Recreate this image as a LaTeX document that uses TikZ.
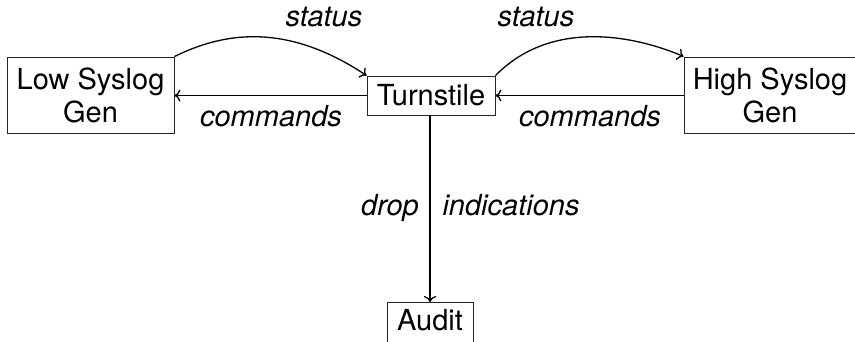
\documentclass[tikz,border=0pt]{standalone}
\usepackage{fontspec}
\setmainfont{TeX Gyre Heros}
\usetikzlibrary{arrows.meta}
\begin{document}
\begin{tikzpicture}[x=1pt,y=-1pt,
  box/.style={draw=black!85, line width=0.9pt, align=center, inner sep=0pt,
    font=\fontsize{29}{33}\selectfont},
  conn/.style={line width=1.3pt, -{To[length=6pt,width=12pt]}},
  lab/.style={anchor=base, font=\fontsize{29}{33}\selectfont\itshape, inner sep=0pt}]
\useasboundingbox (0,0) rectangle (855,342);
\node[box, minimum width=167pt, minimum height=76pt] (low) at (90.5,95) {Low Syslog\\Gen};
\node[box, minimum width=128pt, minimum height=39pt] (turn) at (431,95.5) {Turnstile};
\node[box, minimum width=172pt, minimum height=76pt] (high) at (770,95) {High Syslog\\Gen};
\node[box, anchor=north, minimum width=86pt, text height=20pt, text depth=6pt, inner ysep=8pt] (audit) at (430,302) {Audit};
% status curves
\draw[conn] (low.north east) .. controls (221,33.6) and (284,20.6) .. (turn.north west);
\draw[conn] (turn.north east) .. controls (559.5,10.5) and (655.5,44.2) .. (high.north west);
% commands
\draw[conn] (turn.west) -- (turn.west -| low.east);
\draw[conn] (high.west |- turn.east) -- (turn.east);
% indications
\draw[conn] (turn.south -| audit.north) -- (audit.north);
% labels
\node[lab] (s1) at (324,27) {status};
\node[lab] (s2) at (536,27) {status};
\node[lab] (c1) at (271,127) {commands};
\node[lab] (c2) at (590,127) {commands};
\node[lab] (d) at (390,215) {drop};
\node[lab] (i) at (511,215) {indications};
\end{tikzpicture}
\end{document}
